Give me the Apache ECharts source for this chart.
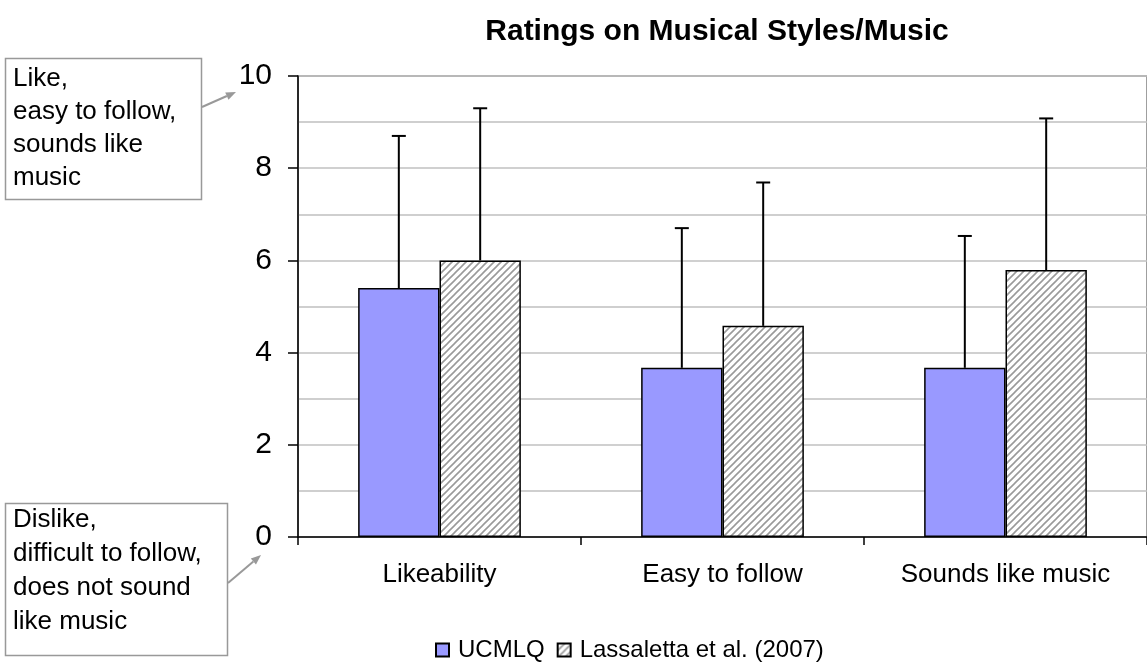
<!DOCTYPE html>
<html>
<head>
<meta charset="utf-8">
<script src="https://cdn.jsdelivr.net/npm/echarts@6/dist/echarts.min.js"></script>
<style>
html,body{margin:0;padding:0;background:#fff;}
#chart{width:1147px;height:663px;}
</style>
</head>
<body>
<div id="chart"></div>
<script>
// ---- data ----
const categories = ['Likeability', 'Easy to follow', 'Sounds like music'];
const seriesNames = ['UCMLQ', 'Lassaletta et al. (2007)'];
const ucmlqMean = [5.4, 3.67, 3.67];
const ucmlqSD = [3.3, 3.03, 2.86];
const lassMean = [6.0, 4.58, 5.79];
const lassSD = [3.3, 3.11, 3.29];
const yTicks = [0, 2, 4, 6, 8, 10];
const titleText = 'Ratings on Musical Styles/Music';
const noteTop = ['Like,', 'easy to follow,', 'sounds like', 'music'];
const noteBottom = ['Dislike,', 'difficult to follow,', 'does not sound', 'like music'];

const FONT = '"Liberation Sans", Arial, sans-serif';
const CAT_GAP = 0.425;

// hatch pattern
function makeHatch() {
  const s = 7;
  const c = document.createElement('canvas');
  c.width = s; c.height = s;
  const g = c.getContext('2d');
  g.fillStyle = '#ffffff';
  g.fillRect(0, 0, s, s);
  g.strokeStyle = '#9a9a9a';
  g.lineWidth = 1.6;
  g.beginPath();
  g.moveTo(-1, s + 1); g.lineTo(s + 1, -1);
  g.moveTo(-1, 1); g.lineTo(1, -1);
  g.moveTo(s - 1, s + 1); g.lineTo(s + 1, s - 1);
  g.stroke();
  return c;
}
const hatch = { image: makeHatch(), repeat: 'repeat' };

function errData(mean, sd) {
  return mean.map((m, i) => [i, m, +(m + sd[i]).toFixed(3)]);
}

function errRender(side) {
  return function (params, api) {
    const idx = api.value(0);
    const mean = api.value(1);
    const top = api.value(2);
    const band = api.size([1, 0])[0];
    const barW = band * (1 - CAT_GAP) / 2;
    const off = side * barW / 2;
    const pTop = api.coord([idx, top]);
    const pBase = api.coord([idx, mean]);
    const x = pTop[0] + off;
    const st = { stroke: '#000', lineWidth: 2 };
    return {
      type: 'group',
      children: [
        { type: 'line', shape: { x1: x, y1: pBase[1], x2: x, y2: pTop[1] }, style: st },
        { type: 'line', shape: { x1: x - 7, y1: pTop[1], x2: x + 7, y2: pTop[1] }, style: st }
      ]
    };
  };
}

const chart = echarts.init(document.getElementById('chart'), null, { renderer: 'canvas' });

function noteTexts(lines, x, y0, step) {
  return lines.map((t, i) => ({
    type: 'text', x: x, y: y0 + i * step,
    style: { text: t, font: '26px ' + FONT, fill: '#000', verticalAlign: 'middle', align: 'left' }
  }));
}

function arrow(x1, y1, x2, y2) {
  const ang = Math.atan2(y2 - y1, x2 - x1);
  const L = 10, W = 4;
  const bx = x2 - L * Math.cos(ang), by = y2 - L * Math.sin(ang);
  const px = -Math.sin(ang) * W, py = Math.cos(ang) * W;
  return [
    { type: 'line', shape: { x1: x1, y1: y1, x2: bx, y2: by }, style: { stroke: '#999', lineWidth: 2 } },
    { type: 'polygon', shape: { points: [[x2, y2], [bx + px, by + py], [bx - px, by - py]] }, style: { fill: '#999' } }
  ];
}

const graphics = [
  { type: 'text', x: 717, y: 32, style: { text: titleText, font: 'bold 30px ' + FONT, fill: '#000', align: 'center', verticalAlign: 'middle' } },
  { type: 'rect', shape: { x: 5.5, y: 58.5, width: 196, height: 141 }, style: { fill: '#fff', stroke: '#999', lineWidth: 1.5 } },
  { type: 'rect', shape: { x: 5.5, y: 503.5, width: 222, height: 152 }, style: { fill: '#fff', stroke: '#999', lineWidth: 1.5 } }
]
  .concat(noteTexts(noteTop, 13, 79, 33))
  .concat(noteTexts(noteBottom, 13, 520, 34))
  .concat(arrow(202, 107, 236, 92))
  .concat(arrow(228, 583, 261, 555));

chart.setOption({
  animation: false,
  backgroundColor: '#fff',
  textStyle: { fontFamily: FONT, color: '#000' },
  grid: {
    left: 298, top: 76, width: 855, height: 461,
    show: true, borderColor: '#808080', borderWidth: 1.5, backgroundColor: '#fff',
    containLabel: false
  },
  legend: {
    left: 430, top: 633,
    selectedMode: false,
    icon: 'rect', itemWidth: 13, itemHeight: 13, itemGap: 12,
    textStyle: { fontSize: 24, fontFamily: FONT, color: '#000', padding: [0, 0, 0, 4] },
    data: seriesNames
  },
  xAxis: {
    type: 'category',
    data: categories,
    axisLine: { lineStyle: { color: '#000', width: 1.5 } },
    axisTick: { show: true, length: 8, lineStyle: { color: '#000', width: 1.5 } },
    axisLabel: { fontSize: 26, color: '#000', margin: 25, fontFamily: FONT },
    splitLine: { show: false }
  },
  yAxis: {
    type: 'value',
    min: 0, max: 10, interval: 2,
    axisLine: { show: true, lineStyle: { color: '#000', width: 1.5 } },
    axisTick: { show: true, length: 10, lineStyle: { color: '#000', width: 1.5 } },
    axisLabel: { fontSize: 30, color: '#000', margin: 26, fontFamily: FONT,
      formatter: v => yTicks.indexOf(v) >= 0 ? String(v) : '' },
    splitLine: { show: true, lineStyle: { color: '#c0c0c0', width: 1.5 } },
    minorTick: { show: false, splitNumber: 2 },
    minorSplitLine: { show: true, lineStyle: { color: '#c0c0c0', width: 1.5 } }
  },
  series: [
    {
      name: seriesNames[0], type: 'bar', data: ucmlqMean,
      barGap: '0%', barCategoryGap: (CAT_GAP * 100) + '%',
      itemStyle: { color: '#9999ff', borderColor: '#000', borderWidth: 1.5 }
    },
    {
      name: seriesNames[1], type: 'bar', data: lassMean,
      barGap: '0%', barCategoryGap: (CAT_GAP * 100) + '%',
      itemStyle: { color: hatch, borderColor: '#000', borderWidth: 1.5 }
    },
    {
      type: 'custom', renderItem: errRender(-1), data: errData(ucmlqMean, ucmlqSD), z: 5,
      encode: { x: 0, y: [1, 2] }, silent: true
    },
    {
      type: 'custom', renderItem: errRender(1), data: errData(lassMean, lassSD), z: 5,
      encode: { x: 0, y: [1, 2] }, silent: true
    }
  ],
  graphic: graphics
});
</script>
</body>
</html>
